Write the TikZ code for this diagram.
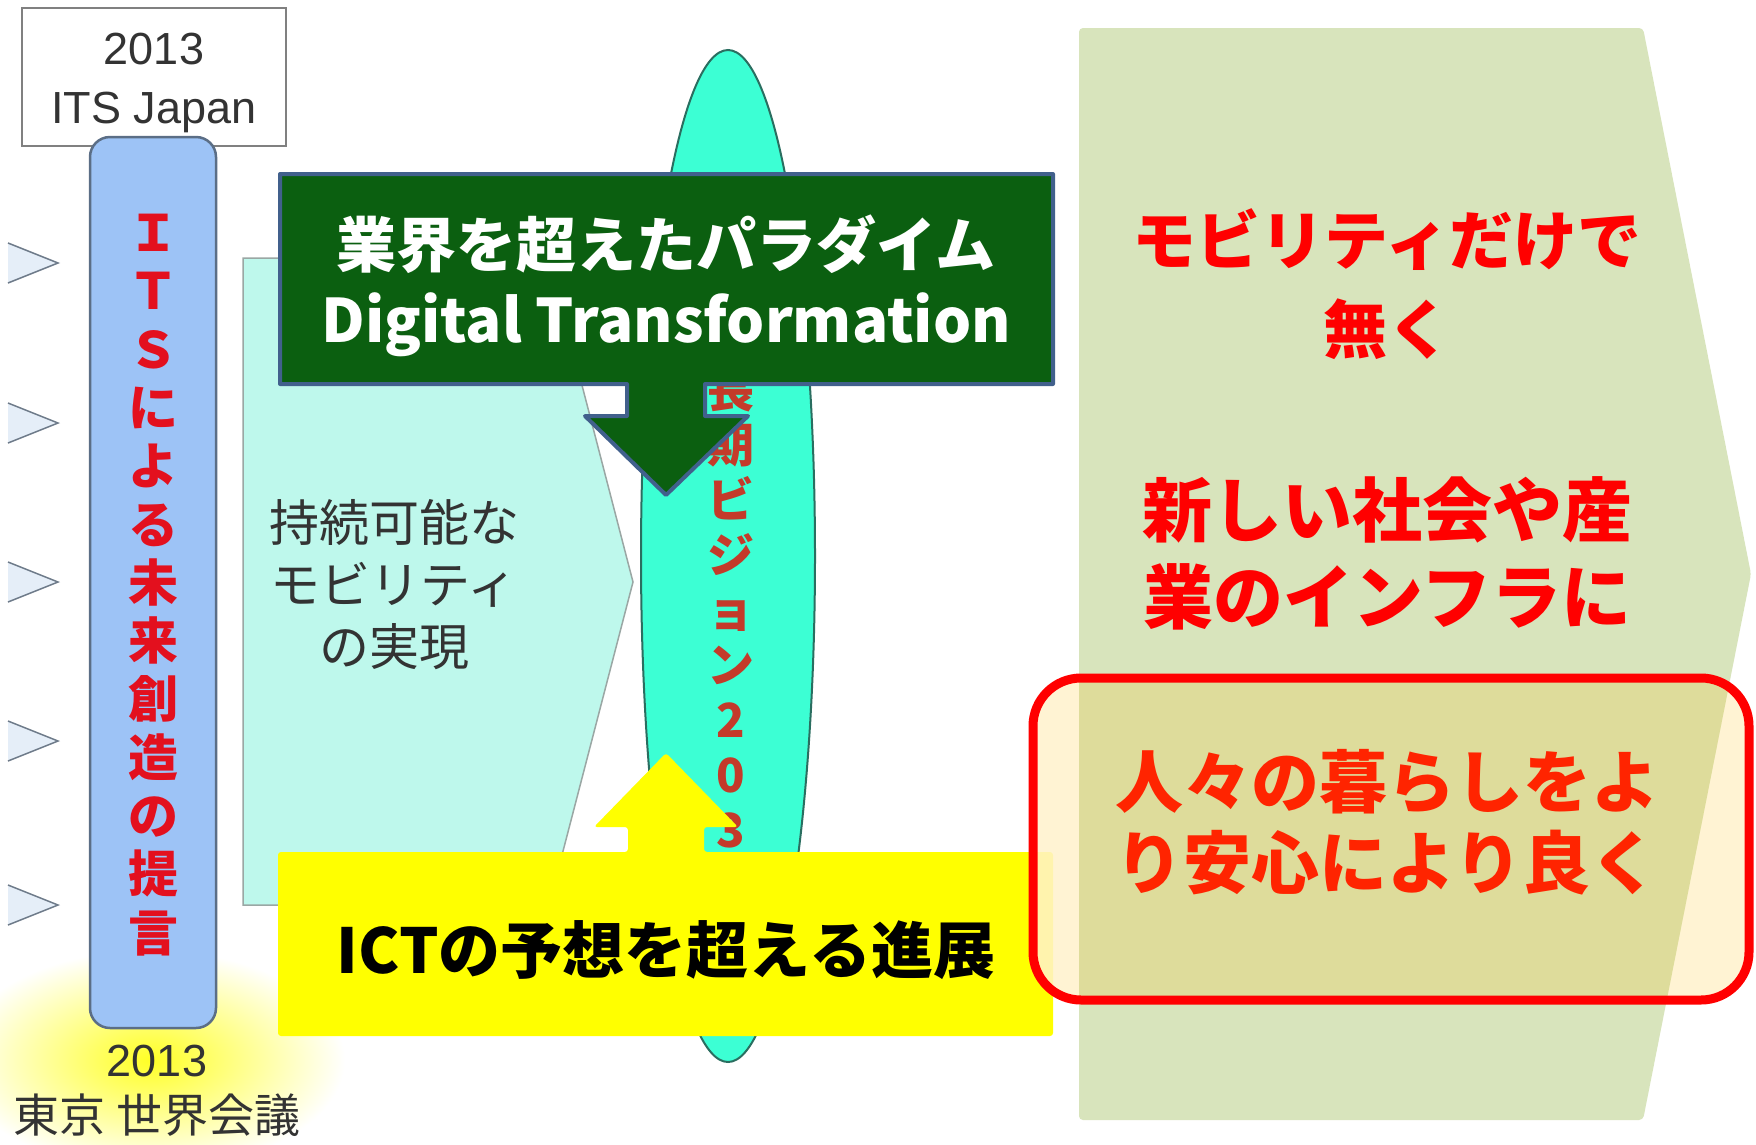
\documentclass[tikz,border=0pt]{standalone}
\usepackage{fontspec}
\setmainfont{Liberation Sans}
\newfontfamily\jp{Noto Sans CJK JP}
\newfontfamily\jpk{Noto Sans CJK JP Black}
\definecolor{cOlive}{HTML}{D8E4BC}
\definecolor{cMix}{HTML}{DEDC9B}
\definecolor{cCream}{HTML}{FFF2CC}
\definecolor{cRed}{HTML}{FF0000}
\definecolor{cRedB}{HTML}{FF2400}
\definecolor{cGreen}{HTML}{0B5F10}
\definecolor{cGreenB}{HTML}{41608C}
\definecolor{cYellow}{HTML}{FFFF00}
\definecolor{cAqua}{HTML}{3CFFD4}
\definecolor{cAquaB}{HTML}{2A6E60}
\definecolor{cCyan}{HTML}{BEF8EC}
\definecolor{cCyanB}{HTML}{9AA7A4}
\definecolor{cBlue}{HTML}{9DC3F6}
\definecolor{cBlueB}{HTML}{5B6E86}
\definecolor{cItsRed}{HTML}{E3101E}
\definecolor{cVisRed}{HTML}{C43A2A}
\definecolor{cDark}{HTML}{333333}
\definecolor{cTri}{HTML}{E5EEF8}
\definecolor{cTriB}{HTML}{6E7B8A}
\begin{document}
\begin{tikzpicture}[x=1pt,y=-1pt,
  every node/.style={inner sep=0pt, outer sep=0pt},
  redtext/.style={text=cRed, align=center},
  vstack/.style={align=center}]
\useasboundingbox (0,0) rectangle (1756,1144);
\fill[white] (0,0) rectangle (1756,1144);

% yellow glow bottom-left
\shade[inner color=cYellow!85!white, outer color=white] (150,1060) ellipse [x radius=195pt, y radius=110pt];

% left chevrons
\foreach \yy in {263,423,582,741,905}{
  \fill[cTri] (8,\yy-20) -- (58,\yy) -- (8,\yy+20) -- cycle;
  \draw[cTriB, line width=1.5pt] (8,\yy-20) -- (58,\yy) -- (8,\yy+20);
}

% top box
\draw[draw=black!50, line width=2pt, fill=white] (22,8) rectangle (286,146);
\node[font=\fontsize{45}{59}\selectfont, text=cDark, align=center] (itsj) at (154,83) {2013\\ITS Japan};

% blue column
\draw[draw=cBlueB, line width=2.5pt, fill=cBlue, rounded corners=20pt] (90,137) rectangle (216,1028);
\node[font=\jp\bfseries\fontsize{50}{58.3}\selectfont, text=cItsRed, vstack] (itsv) at (153,585)
  {Ｉ\\Ｔ\\Ｓ\\に\\よ\\る\\未\\来\\創\\造\\の\\提\\言};

% bottom label
\node[font=\fontsize{45}{50}\selectfont, text=cDark] (y2013) at (157,1061) {2013};
\node[font=\jp\fontsize{46}{50}\selectfont, text=cDark] (tokyo) at (157,1115) {東京 世界会議};

% cyan pentagon arrow
\draw[draw=cCyanB, line width=1.5pt, fill=cCyan] (243,258) -- (549,258) -- (633,582) -- (549,905) -- (243,905) -- cycle;
\node[font=\jp\fontsize{50}{62}\selectfont, text=cDark, align=center] (sus) at (394,585) {持続可能な\\モビリティ\\の実現};

% aqua ellipse
\draw[draw=cAquaB, line width=2pt, fill=cAqua] (728,556) ellipse [x radius=87pt, y radius=506pt];
\node[font=\jp\bfseries\fontsize{47}{55}\selectfont, text=cVisRed, vstack] (vis) at (731,636)
  {長\\期\\ビ\\ジ\\ョ\\ン\\2\\0\\3\\0};

% green callout
\draw[draw=cGreenB, line width=4pt, fill=cGreen, line join=round]
  (280,174) -- (1053,174) -- (1053,384) -- (705,384) -- (705,416) -- (748,416) -- (666,495)
  -- (585,416) -- (627,416) -- (627,384) -- (280,384) -- cycle;
\node[font=\jpk\fontsize{60}{70}\selectfont, text=white, anchor=base] (dx1) at (666,267) {業界を超えたパラダイム};
\node[font=\jpk\fontsize{60}{70}\selectfont, text=white, anchor=base] (dx2) at (666,342) {Digital Transformation};

% yellow callout
\fill[cYellow, rounded corners=3pt]
  (278,852) -- (628,852) -- (628,827) -- (594,827) -- (666,753) -- (738,827) -- (704,827)
  -- (704,852) -- (1053,852) -- (1053,1036) -- (278,1036) -- cycle;
\node[font=\jpk\fontsize{62}{70}\selectfont, text=black] (ict) at (666,950) {ICTの予想を超える進展};

% olive big arrow
\fill[cOlive, rounded corners=4pt] (1079,28) -- (1643,28) -- (1751,574) -- (1643,1120) -- (1079,1120) -- cycle;

% red rounded frame
\fill[cCream, fill opacity=0.85, rounded corners=48pt] (1033,678) rectangle (1749,1000);
\begin{scope}
  \clip[rounded corners=48pt] (1033,678) rectangle (1749,1000);
  \fill[cMix] (1079,28) -- (1643,28) -- (1751,574) -- (1643,1120) -- (1079,1120) -- cycle;
\end{scope}
\draw[cRed, line width=9pt, rounded corners=48pt] (1033,678) rectangle (1749,1000);

% red texts
\node[font=\jpk\fontsize{64}{89}\selectfont, redtext] (r1) at (1387,284) {モビリティだけで\\無く};
\node[font=\jpk\fontsize{70}{87}\selectfont, redtext] (r2) at (1387,553) {新しい社会や産\\業のインフラに};
\node[font=\jpk\fontsize{68}{81}\selectfont, text=cRedB, align=center] (r3) at (1387,822) {人々の暮らしをよ\\り安心により良く};
\end{tikzpicture}
\end{document}
